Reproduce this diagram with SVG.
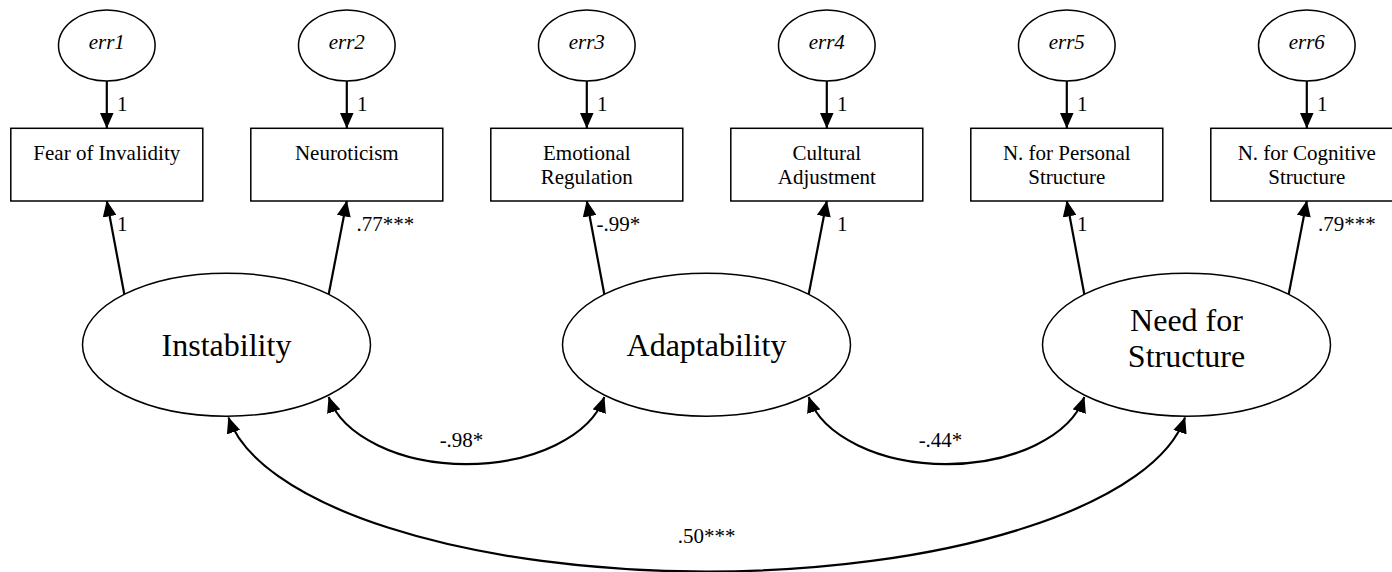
<svg xmlns="http://www.w3.org/2000/svg" width="1392" height="572" viewBox="0 0 1392 572" font-family="'Liberation Serif', 'Times New Roman', Times, serif">
<style>
.shape{fill:#fff;stroke:#000;stroke-width:1.5}
.conn{fill:none;stroke:#000;stroke-width:2.2}
text{fill:#000}
.t{font-size:21px;text-anchor:middle}
.e{font-size:21px;font-style:italic;text-anchor:middle}
.l{font-size:21px}
.c{font-size:21px;text-anchor:middle}
.big{font-size:32px;text-anchor:middle}
</style>
<defs>
<marker id="ah" markerUnits="userSpaceOnUse" viewBox="0 0 16 14" markerWidth="16" markerHeight="14" refX="15.5" refY="7" orient="auto-start-reverse">
<path d="M0,0 L16,7 L0,14 z" fill="#000"/>
</marker>
</defs>
<rect width="1392" height="572" fill="#fff"/>

<g id="connectors">
<line class="conn" x1="106.8" y1="81" x2="106.8" y2="128" marker-end="url(#ah)"/>
<line class="conn" x1="346.8" y1="81" x2="346.8" y2="128" marker-end="url(#ah)"/>
<line class="conn" x1="586.8" y1="81" x2="586.8" y2="128" marker-end="url(#ah)"/>
<line class="conn" x1="826.8" y1="81" x2="826.8" y2="128" marker-end="url(#ah)"/>
<line class="conn" x1="1066.8" y1="81" x2="1066.8" y2="128" marker-end="url(#ah)"/>
<line class="conn" x1="1306.8" y1="81" x2="1306.8" y2="128" marker-end="url(#ah)"/>

<line class="conn" x1="124.3" y1="294.3" x2="106.8" y2="201" marker-end="url(#ah)"/>
<line class="conn" x1="328.7" y1="294.3" x2="346.8" y2="201" marker-end="url(#ah)"/>
<line class="conn" x1="604.3" y1="294.3" x2="586.8" y2="201" marker-end="url(#ah)"/>
<line class="conn" x1="808.7" y1="294.3" x2="826.8" y2="201" marker-end="url(#ah)"/>
<line class="conn" x1="1084.3" y1="294.3" x2="1066.8" y2="201" marker-end="url(#ah)"/>
<line class="conn" x1="1288.7" y1="294.3" x2="1306.8" y2="201" marker-end="url(#ah)"/>

<path class="conn" d="M328.7,397 A140.7,84 0 0 0 604.3,397" marker-start="url(#ah)" marker-end="url(#ah)"/>
<path class="conn" d="M808.7,397 A140.7,84 0 0 0 1084.3,397" marker-start="url(#ah)" marker-end="url(#ah)"/>
<path class="conn" d="M228.5,417.5 A482,176 0 0 0 1185,417.5" marker-start="url(#ah)" marker-end="url(#ah)"/>

<text class="l" x="117" y="111">1</text>
<text class="l" x="357" y="111">1</text>
<text class="l" x="597" y="111">1</text>
<text class="l" x="837" y="111">1</text>
<text class="l" x="1077" y="111">1</text>
<text class="l" x="1317" y="111">1</text>

<text class="l" x="117" y="230.5">1</text>
<text class="l" x="356.5" y="230.5">.77***</text>
<text class="l" x="596.5" y="230.5">-.99*</text>
<text class="l" x="837" y="230.5">1</text>
<text class="l" x="1077" y="230.5">1</text>
<text class="l" x="1318" y="230.5">.79***</text>

<text class="c" x="461.5" y="446.7">-.98*</text>
<text class="c" x="940.5" y="446.7">-.44*</text>
<text class="c" x="706.5" y="543">.50***</text>
</g>

<g id="err1"><ellipse class="shape" cx="106.8" cy="45.5" rx="48.3" ry="35.5"/><text class="e" x="106.8" y="48.5">err1</text></g>
<g id="err2"><ellipse class="shape" cx="346.8" cy="45.5" rx="48.3" ry="35.5"/><text class="e" x="346.8" y="48.5">err2</text></g>
<g id="err3"><ellipse class="shape" cx="586.8" cy="45.5" rx="48.3" ry="35.5"/><text class="e" x="586.8" y="48.5">err3</text></g>
<g id="err4"><ellipse class="shape" cx="826.8" cy="45.5" rx="48.3" ry="35.5"/><text class="e" x="826.8" y="48.5">err4</text></g>
<g id="err5"><ellipse class="shape" cx="1066.8" cy="45.5" rx="48.3" ry="35.5"/><text class="e" x="1066.8" y="48.5">err5</text></g>
<g id="err6"><ellipse class="shape" cx="1306.8" cy="45.5" rx="48.3" ry="35.5"/><text class="e" x="1306.8" y="48.5">err6</text></g>

<g id="fear"><rect class="shape" x="10.8" y="128.3" width="192" height="72.7"/><text class="t" x="106.8" y="160">Fear of Invalidity</text></g>
<g id="neuroticism"><rect class="shape" x="250.8" y="128.3" width="192" height="72.7"/><text class="t" x="346.8" y="160">Neuroticism</text></g>
<g id="emotional"><rect class="shape" x="490.8" y="128.3" width="192" height="72.7"/><text class="t" x="586.8" y="159.5">Emotional</text><text class="t" x="586.8" y="184">Regulation</text></g>
<g id="cultural"><rect class="shape" x="730.8" y="128.3" width="192" height="72.7"/><text class="t" x="826.8" y="159.5">Cultural</text><text class="t" x="826.8" y="184">Adjustment</text></g>
<g id="personal"><rect class="shape" x="970.8" y="128.3" width="192" height="72.7"/><text class="t" x="1066.8" y="159.5">N. for Personal</text><text class="t" x="1066.8" y="184">Structure</text></g>
<g id="cognitive"><rect class="shape" x="1210.8" y="128.3" width="192" height="72.7"/><text class="t" x="1306.8" y="159.5">N. for Cognitive</text><text class="t" x="1306.8" y="184">Structure</text></g>

<g id="instability"><ellipse class="shape" cx="226.5" cy="344.7" rx="144" ry="71.5"/><text class="big" x="226.5" y="356">Instability</text></g>
<g id="adaptability"><ellipse class="shape" cx="706.5" cy="344.7" rx="144" ry="71.5"/><text class="big" x="706.5" y="356">Adaptability</text></g>
<g id="needforstructure"><ellipse class="shape" cx="1186.5" cy="344.7" rx="144" ry="71.5"/><text class="big" x="1186.5" y="330.7">Need for</text><text class="big" x="1186.5" y="367.3">Structure</text></g>
</svg>
